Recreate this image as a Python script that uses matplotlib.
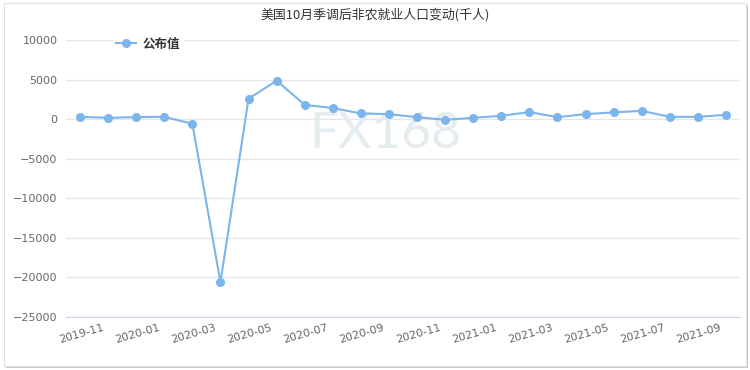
import matplotlib.pyplot as plt
import matplotlib.transforms as mtransforms
from matplotlib.patches import Rectangle
from matplotlib.lines import Line2D

months = ['2019-10', '2019-11', '2019-12', '2020-01', '2020-02', '2020-03',
          '2020-04', '2020-05', '2020-06', '2020-07', '2020-08', '2020-09',
          '2020-10', '2020-11', '2020-12', '2021-01', '2021-02', '2021-03',
          '2021-04', '2021-05', '2021-06', '2021-07', '2021-08', '2021-09']
values = [290, 165, 254, 290, -590, -20600, 2580, 4860, 1815, 1396, 720, 635,
          254, -85, 165, 420, 890, 254, 635, 850, 1050, 290, 290, 550]
yticks = [-25000, -20000, -15000, -10000, -5000, 0, 5000, 10000]

plt.rcParams['font.family'] = ['Noto Sans CJK SC', 'DejaVu Sans']

fig = plt.figure(figsize=(7.5, 3.7), dpi=100)
fig.patch.set_facecolor('white')

# outer frame with a soft shadow
fig.patches.append(Rectangle((6 / 750, 2 / 370), 742 / 750, 363 / 370, transform=fig.transFigure,
                             facecolor='#c8c8c8', edgecolor='none', zorder=-2))
fig.patches.append(Rectangle((4 / 750, 4 / 370), 742 / 750, 363 / 370, transform=fig.transFigure,
                             facecolor='white', edgecolor='#e0e0e0', lw=0.8, zorder=-1))

ax = fig.add_axes([66 / 750, 53 / 370, 674 / 750, 277 / 370])
ax.set_facecolor('none')
x = list(range(len(months)))
ax.plot(x, values, color='#7cb5ec', lw=1.5, marker='o', ms=5.5, zorder=3, clip_on=False)

ax.set_xlim(-0.5, len(months) - 0.5)
ax.set_ylim(-25000, 10000)
ax.set_yticks(yticks)
ax.set_yticklabels([str(v).replace('-', '−') for v in yticks], family='DejaVu Sans',
                   fontsize=8, color='#666666')
ax.set_xticks(x[1::2])
ax.set_xticklabels(months[1::2], rotation=16, ha='right', rotation_mode='anchor',
                   family='DejaVu Sans', fontsize=8, color='#666666')
ax.tick_params(length=0, pad=6)
ax.tick_params(axis='x', pad=4)
shift = mtransforms.ScaledTranslation(-6 / 100, 0, fig.dpi_scale_trans)
for lbl in ax.get_xticklabels():
    lbl.set_transform(lbl.get_transform() + shift)
ax.grid(axis='y', color='#e6e6e6', lw=1)
ax.set_axisbelow(True)
for s in ['top', 'right', 'left']:
    ax.spines[s].set_visible(False)
ax.spines['bottom'].set_color('#ccd6eb')

ax.text(0.473, 0.66, 'FX168', transform=ax.transAxes, fontsize=37, family='Lato',
        color='#e4ecf0', ha='center', va='center', zorder=1)

fig.text(375 / 750, 1 - 15 / 370, '美国10月季调后非农就业人口变动(千人)', fontsize=9.3,
         color='#333333', ha='center', va='center')

handle = Line2D([], [], color='#7cb5ec', lw=1.5, marker='o', ms=5.5)
leg = ax.legend([handle], ['公布值'], loc='upper left', bbox_to_anchor=(0.06, 1.045),
                frameon=True, handlelength=1.6, handletextpad=0.5, borderpad=0.3,
                prop={'family': ['Noto Sans CJK SC'], 'weight': 'bold', 'size': 9})
leg.get_frame().set_edgecolor('none')
leg.get_frame().set_facecolor('white')
leg.get_frame().set_alpha(1)
leg.get_texts()[0].set_color('#333333')

fig.savefig('out.png', dpi=100)
